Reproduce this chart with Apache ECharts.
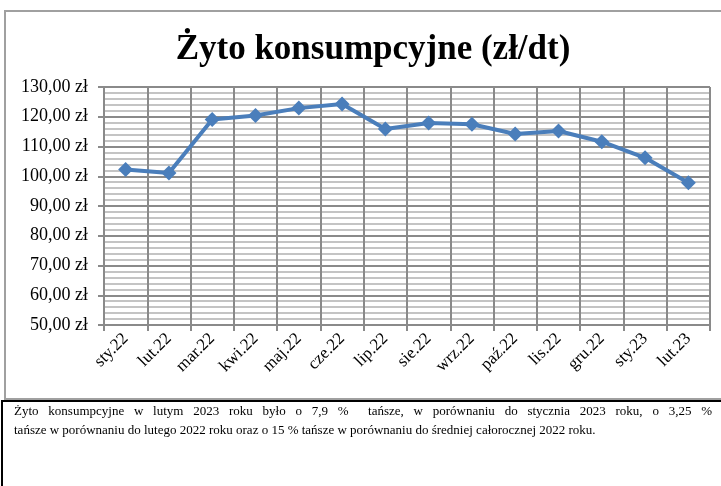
<!DOCTYPE html>
<html>
<head>
<meta charset="utf-8">
<script src="https://cdn.jsdelivr.net/npm/echarts@6/dist/echarts.min.js"></script>
<style>
  html, body { margin: 0; padding: 0; background: #fff; }
  #chart { width: 721px; height: 486px; }
</style>
</head>
<body>
<div id="chart"></div>
<script>
var months = ['sty.22', 'lut.22', 'mar.22', 'kwi.22', 'maj.22', 'cze.22', 'lip.22',
  'sie.22', 'wrz.22', 'paź.22', 'lis.22', 'gru.22', 'sty.23', 'lut.23']
var prices = [102.3, 101.1, 119.1, 120.4, 122.9, 124.3, 115.9,
  117.9, 117.5, 114.2, 115.2, 111.6, 106.2, 97.8]
var titleText = 'Żyto konsumpcyjne (zł/dt)'
var noteLines = [
  'Żyto konsumpcyjne w lutym 2023 roku było o 7,9 %  tańsze, w porównaniu do stycznia 2023 roku, o 3,25 %',
  'tańsze w porównaniu do lutego 2022 roku oraz o 15 % tańsze w porównaniu do średniej całorocznej 2022 roku.'
]

var serif = "'Liberation Serif', 'Times New Roman', serif"
var noteFont = '13px ' + serif

// first line of the note is justified, like in the text box of the original
function justifiedWords (line, x0, x1, y) {
  var ctx = document.createElement('canvas').getContext('2d')
  ctx.font = noteFont
  var words = line.split(' ')
  var total = 0
  words.forEach(function (w) { total += ctx.measureText(w).width })
  var gap = (x1 - x0 - total) / (words.length - 1)
  var x = x0
  return words.map(function (w) {
    var el = { type: 'text', x: x, y: y, style: { text: w, font: noteFont, fill: '#000' } }
    x += ctx.measureText(w).width + gap
    return el
  })
}

var chart = echarts.init(document.getElementById('chart'))

var graphics = [
  {
    type: 'rect',
    shape: { x: 5, y: 11, width: 740, height: 388 },
    style: { fill: 'none', stroke: '#a0a0a0', lineWidth: 2 },
    silent: true,
    z: -1
  },
  {
    type: 'polyline',
    shape: { points: [[2, 490], [2, 401], [725, 401]] },
    style: { fill: 'none', stroke: '#000', lineWidth: 2 },
    silent: true
  },
  {
    type: 'text',
    x: 14,
    y: 424,
    style: { text: noteLines[1], font: noteFont, fill: '#000' }
  }
].concat(justifiedWords(noteLines[0], 14, 712, 405))

chart.setOption({
  animation: false,
  title: {
    text: titleText,
    left: 368,
    top: 27,
    textAlign: 'center',
    textStyle: { fontFamily: serif, fontSize: 35, fontWeight: 'bold', color: '#000' }
  },
  grid: { left: 104, right: 11, top: 87, bottom: 161 },
  xAxis: {
    type: 'category',
    data: months,
    boundaryGap: true,
    axisLine: { lineStyle: { color: '#8a8a8a', width: 2 } },
    axisTick: { show: true, interval: 0, length: 6, lineStyle: { color: '#8a8a8a', width: 2 } },
    axisLabel: {
      interval: 0,
      rotate: 45,
      margin: 11,
      fontFamily: serif,
      fontSize: 17,
      color: '#000'
    },
    splitLine: { show: true, interval: 0, lineStyle: { color: '#8a8a8a', width: 2 } }
  },
  yAxis: {
    type: 'value',
    min: 50,
    max: 130,
    interval: 10,
    axisLine: { show: true, lineStyle: { color: '#8a8a8a', width: 2 } },
    axisTick: { show: true, length: 6, lineStyle: { color: '#8a8a8a', width: 2 } },
    minorTick: { show: false, splitNumber: 5 },
    axisLabel: {
      margin: 16,
      fontFamily: serif,
      fontSize: 18,
      color: '#000',
      formatter: function (v) { return v.toFixed(2).replace('.', ',') + ' zł' }
    },
    splitLine: { show: true, lineStyle: { color: '#8a8a8a', width: 2 } },
    minorSplitLine: { show: true, lineStyle: { color: '#c4c4c4', width: 2 } }
  },
  series: [{
    type: 'line',
    data: prices,
    symbol: 'diamond',
    symbolSize: 15,
    lineStyle: { color: '#4a7ebb', width: 4 },
    itemStyle: { color: '#4a7ebb' },
    z: 5
  }],
  graphic: graphics
})
</script>
</body>
</html>
